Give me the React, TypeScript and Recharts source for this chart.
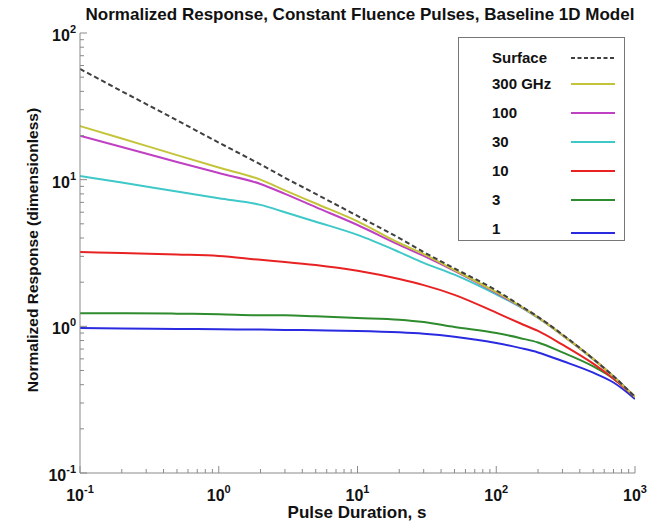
import React from "react";
import { LineChart, Line, XAxis, YAxis, Legend } from "recharts";

// Pulse durations (s)
const durations = [0.1, 0.2, 0.5, 1, 2, 3, 5, 10, 20, 30, 50, 100, 150, 200, 300, 500, 700, 1000];

// Normalized response values per series
const surface = [56.9, 40.1, 25.4, 17.9, 12.7, 10.3, 8.0, 5.66, 4.0, 3.21, 2.48, 1.76, 1.38, 1.16, 0.88, 0.6, 0.457, 0.33];
const ghz300 = [23.2, 19.1, 14.7, 12.1, 10.0, 8.45, 6.88, 5.2, 3.7, 3.11, 2.42, 1.71, 1.37, 1.15, 0.87, 0.6, 0.455, 0.33];
const ghz100 = [19.9, 16.7, 13.2, 11.1, 9.35, 8.0, 6.5, 4.91, 3.59, 3.02, 2.39, 1.69, 1.36, 1.15, 0.87, 0.6, 0.455, 0.33];
const ghz30 = [10.6, 9.55, 8.3, 7.47, 6.73, 6.0, 5.17, 4.2, 3.21, 2.71, 2.25, 1.65, 1.35, 1.14, 0.87, 0.595, 0.455, 0.33];
const ghz10 = [3.21, 3.16, 3.09, 3.02, 2.84, 2.75, 2.62, 2.39, 2.1, 1.91, 1.64, 1.24, 1.045, 0.93, 0.75, 0.557, 0.44, 0.33];
const ghz3 = [1.23, 1.23, 1.22, 1.21, 1.19, 1.19, 1.17, 1.14, 1.11, 1.07, 0.99, 0.9, 0.83, 0.776, 0.664, 0.533, 0.44, 0.33];
const ghz1 = [0.975, 0.965, 0.96, 0.955, 0.95, 0.945, 0.94, 0.93, 0.91, 0.89, 0.85, 0.77, 0.71, 0.664, 0.58, 0.483, 0.414, 0.32];

// Series names (legend labels, in legend order)
const seriesNames = ["Surface", "300 GHz", "100", "30", "10", "3", "1"];

// Axis ticks
const xMajorTicks = [0.1, 1, 10, 100, 1000];
const yMajorTicks = [0.1, 1, 10, 100];
const minorMultipliers = [2, 3, 4, 5, 6, 7, 8, 9];

const buildTicks = (majors: number[]) => {
  const out: number[] = [];
  majors.forEach((m, i) => {
    out.push(m);
    if (i < majors.length - 1) minorMultipliers.forEach((k) => out.push(Number((m * k).toPrecision(6))));
  });
  return out;
};
const xTicks = buildTicks(xMajorTicks);
const yTicks = buildTicks(yMajorTicks);

const data = durations.map((d, i) => ({
  t: d,
  surface: surface[i],
  g300: ghz300[i],
  g100: ghz100[i],
  g30: ghz30[i],
  g10: ghz10[i],
  g3: ghz3[i],
  g1: ghz1[i],
}));

const FONT = "'Liberation Sans', Arial, Helvetica, sans-serif";
const AXIS = "#8a8a8a";
const TEXT = "#111";

const expOf = (v: number) => Math.round(Math.log10(v));
const isMajor = (v: number) => Math.abs(Math.log10(v) - Math.round(Math.log10(v))) < 1e-6;

const XTickBottom = (props: any) => {
  const { x, y, payload } = props;
  const v = payload.value;
  const major = isMajor(v);
  return (
    <g>
      <line x1={x} y1={y} x2={x} y2={y - (major ? 7 : 4)} stroke={AXIS} strokeWidth={1} />
      {major && (
        <text x={x} y={y + 28} textAnchor="middle" fontFamily={FONT} fontWeight="bold" fontSize={16} fill={TEXT}>
          10
          <tspan dy={-8} fontSize={11}>
            {expOf(v)}
          </tspan>
        </text>
      )}
    </g>
  );
};

const XTickTop = (props: any) => {
  const { x, y, payload } = props;
  const major = isMajor(payload.value);
  return <line x1={x} y1={y} x2={x} y2={y + (major ? 7 : 4)} stroke={AXIS} strokeWidth={1} />;
};

const YTickLeft = (props: any) => {
  const { x, y, payload } = props;
  const v = payload.value;
  const major = isMajor(v);
  return (
    <g>
      <line x1={x} y1={y} x2={x + (major ? 7 : 4)} y2={y} stroke={AXIS} strokeWidth={1} />
      {major && (
        <text x={x - 4} y={y + 8} textAnchor="end" fontFamily={FONT} fontWeight="bold" fontSize={16} fill={TEXT}>
          10
          <tspan dy={-8} fontSize={11}>
            {expOf(v)}
          </tspan>
        </text>
      )}
    </g>
  );
};

const YTickRight = (props: any) => {
  const { x, y, payload } = props;
  const major = isMajor(payload.value);
  return <line x1={x} y1={y} x2={x - (major ? 7 : 4)} y2={y} stroke={AXIS} strokeWidth={1} />;
};

const renderLegend = (props: any) => {
  const items = [...(props.payload || [])].sort(
    (a: any, b: any) => seriesNames.indexOf(String(a.value)) - seriesNames.indexOf(String(b.value))
  );
  return (
    <div
      style={{
        width: 167,
        height: 204,
        border: "1px solid #777",
        background: "#fff",
        position: "relative",
        boxSizing: "border-box",
        fontFamily: FONT,
      }}
    >
      {items.map((e: any, i: number) => {
        const top = i === 0 ? 20 : 17 + 29 * i;
        const dashed = !!(e.payload && e.payload.strokeDasharray);
        return (
          <div key={String(e.value)}>
            <div
              style={{
                position: "absolute",
                left: 33,
                top: top - 10,
                lineHeight: "20px",
                fontSize: 15,
                fontWeight: "bold",
                color: TEXT,
                whiteSpace: "nowrap",
              }}
            >
              {e.value}
            </div>
            <svg style={{ position: "absolute", left: 112, top: top - 3 + (i === 6 ? 4 : 0) }} width={44} height={6}>
              <line
                x1={0}
                y1={3}
                x2={44}
                y2={3}
                stroke={e.color}
                strokeWidth={2}
                strokeDasharray={dashed ? "4 2.5" : undefined}
              />
            </svg>
          </div>
        );
      })}
    </div>
  );
};

export default function App() {
  return (
    <div style={{ position: "relative", width: 648, height: 515, fontFamily: FONT }}>
      <LineChart width={648} height={515} data={data} margin={{ top: 25, right: 21, bottom: 0, left: 0 }}>
        <XAxis
          xAxisId="bottom"
          dataKey="t"
          type="number"
          scale="log"
          domain={[0.1, 1000]}
          allowDataOverflow
          ticks={xTicks}
          interval={0}
          tick={<XTickBottom />}
          tickLine={false}
          tickSize={0}
          tickMargin={0}
          height={50}
          stroke={AXIS}
        />
        <XAxis
          xAxisId="top"
          orientation="top"
          dataKey="t"
          type="number"
          scale="log"
          domain={[0.1, 1000]}
          allowDataOverflow
          ticks={xTicks}
          interval={0}
          tick={<XTickTop />}
          tickLine={false}
          tickSize={0}
          tickMargin={0}
          height={0}
          stroke={AXIS}
        />
        <YAxis
          yAxisId="left"
          type="number"
          scale="log"
          domain={[0.1, 100]}
          allowDataOverflow
          ticks={yTicks}
          interval={0}
          tick={<YTickLeft />}
          tickLine={false}
          tickSize={0}
          tickMargin={0}
          width={72}
          stroke={AXIS}
        />
        <YAxis
          yAxisId="right"
          orientation="right"
          type="number"
          scale="log"
          domain={[0.1, 100]}
          allowDataOverflow
          ticks={yTicks}
          interval={0}
          tick={<YTickRight />}
          tickLine={false}
          tickSize={0}
          tickMargin={0}
          width={0}
          stroke={AXIS}
        />
        <Legend
          layout="vertical"
          align="center"
          verticalAlign="middle"
          content={renderLegend}
          wrapperStyle={{ left: 450, top: 29, width: 167, height: 204 }}
        />
        <Line xAxisId="bottom" yAxisId="left" type="monotone" dataKey="g1" name={seriesNames[6]} stroke="#2a2ae0" strokeWidth={2} dot={false} isAnimationActive={false} />
        <Line xAxisId="bottom" yAxisId="left" type="monotone" dataKey="g3" name={seriesNames[5]} stroke="#2e8b2e" strokeWidth={2} dot={false} isAnimationActive={false} />
        <Line xAxisId="bottom" yAxisId="left" type="monotone" dataKey="g10" name={seriesNames[4]} stroke="#e82222" strokeWidth={2} dot={false} isAnimationActive={false} />
        <Line xAxisId="bottom" yAxisId="left" type="monotone" dataKey="g30" name={seriesNames[3]} stroke="#3ec8c8" strokeWidth={2} dot={false} isAnimationActive={false} />
        <Line xAxisId="bottom" yAxisId="left" type="monotone" dataKey="g100" name={seriesNames[2]} stroke="#c040c4" strokeWidth={2} dot={false} isAnimationActive={false} />
        <Line xAxisId="bottom" yAxisId="left" type="monotone" dataKey="g300" name={seriesNames[1]} stroke="#c4c43a" strokeWidth={2} dot={false} isAnimationActive={false} />
        <Line xAxisId="bottom" yAxisId="left" type="monotone" dataKey="surface" name={seriesNames[0]} stroke="#404040" strokeWidth={2} strokeDasharray="5 3" dot={false} isAnimationActive={false} />
      </LineChart>
      <div
        style={{
          position: "absolute",
          left: 52,
          width: 600,
          top: -3,
          lineHeight: "20px",
          textAlign: "center",
          fontSize: 17,
          fontWeight: "bold",
          color: TEXT,
          whiteSpace: "nowrap",
        }}
      >
        Normalized Response, Constant Fluence Pulses, Baseline 1D Model
      </div>
      <div
        style={{
          position: "absolute",
          left: 199,
          width: 300,
          top: 495,
          lineHeight: "20px",
          textAlign: "center",
          fontSize: 17,
          fontWeight: "bold",
          color: TEXT,
        }}
      >
        Pulse Duration, s
      </div>
      <div
        style={{
          position: "absolute",
          left: 25,
          top: 242,
          transform: "translate(-50%, -50%) rotate(-90deg)",
          lineHeight: "18px",
          fontSize: 15.5,
          fontWeight: "bold",
          color: TEXT,
          whiteSpace: "nowrap",
        }}
      >
        Normalized Response (dimensionless)
      </div>
    </div>
  );
}
